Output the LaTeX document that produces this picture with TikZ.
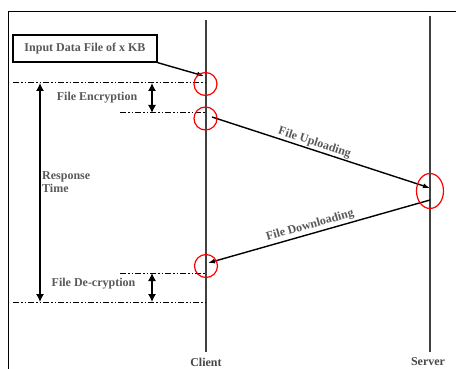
\documentclass[tikz,border=0pt]{standalone}
\usepackage{fontspec}
\setmainfont{Liberation Serif}
\usetikzlibrary{arrows.meta,shapes.geometric}
\begin{document}
\begin{tikzpicture}[x=1pt,y=-1pt,
 lbl/.style={font=\bfseries\fontsize{12}{13}\selectfont, text=black!65, inner sep=1pt},
 life/.style={line width=2.6pt, draw=black!75},
 msg/.style={line width=1.4pt, -{Latex[length=7pt,width=5pt]}},
 ddot/.style={line width=1pt, dash pattern=on 6pt off 2pt on 1.5pt off 2pt on 1.5pt off 2pt},
 dimarrow/.style={line width=1.3pt, {Latex[length=8pt,width=8pt]}-{Latex[length=8pt,width=8pt]}},
 ring/.style={draw=red, line width=1.2pt, circle, minimum size=23pt, inner sep=0pt},
 ringe/.style={draw=red, line width=1.2pt, ellipse, minimum width=27pt, minimum height=35pt, inner sep=0pt}]
\useasboundingbox (0,0) rectangle (456,369);
\fill[white] (0,0) rectangle (456,369);
% frame
\draw[line width=1pt] (8,369) -- (8,12) -- (456,12);
% lifelines
\coordinate (ctop) at (206,20);
\coordinate (cbot) at (206,352);
\coordinate (stop) at (430,16);
\coordinate (sbot) at (430,352);
\draw[life] (ctop) -- (cbot);
\draw[life] (stop) -- (sbot);
\node[lbl, text=black!72] (client) at (206,362) {Client};
\node[lbl, text=black!72] (server) at (428,362) {Server};
% input box
\node[draw, line width=1.3pt, lbl, minimum width=144pt, minimum height=27pt] (inbox) at (85,48.5) {Input Data File of x KB};
\coordinate (c0) at (204,76);
\draw[msg] (inbox.south east) -- (c0);
% dash-dot levels
\coordinate (l1a) at (13,83);  \coordinate (l1b) at (205,83);
\coordinate (l2a) at (120,113); \coordinate (l2b) at (205,113);
\coordinate (l3a) at (120,273); \coordinate (l3b) at (205,273);
\coordinate (l4a) at (13,302);  \coordinate (l4b) at (205,302);
\draw[ddot] (l1a) -- (l1b);
\draw[ddot] (l2a) -- (l2b);
\draw[ddot] (l3a) -- (l3b);
\draw[ddot] (l4a) -- (l4b);
% dimension arrows
\coordinate (r1) at (40,83); \coordinate (r2) at (40,302);
\draw[dimarrow] (r1) -- (r2);
\coordinate (e1) at (152,83); \coordinate (e2) at (152,113);
\draw[dimarrow] (e1) -- (e2);
\coordinate (d1) at (152,273); \coordinate (d2) at (152,302);
\draw[dimarrow] (d1) -- (d2);
\node[lbl, align=left, anchor=west] (resp) at (41,182) {Response\\Time};
\node[lbl] (enc) at (97,98) {File Encryption};
\node[lbl] (dec) at (93.5,284) {File De-cryption};
% messages
\coordinate (u1) at (212,117); \coordinate (u2) at (430,188);
\draw[msg] (u1) -- node[lbl, sloped, above, pos=0.46] (uplbl) {File Uploading} (u2);
\coordinate (w1) at (430,200); \coordinate (w2) at (208,263);
\draw[msg] (w1) -- node[lbl, sloped, above, pos=0.53, yshift=1pt] (dnlbl) {File Downloading} (w2);
% red marks
\node[ring] (m1) at (205.5,84) {};
\node[ring] (m2) at (205.5,118.5) {};
\node[ringe] (m3) at (430,191) {};
\node[ring] (m4) at (206,266) {};
\end{tikzpicture}
\end{document}
